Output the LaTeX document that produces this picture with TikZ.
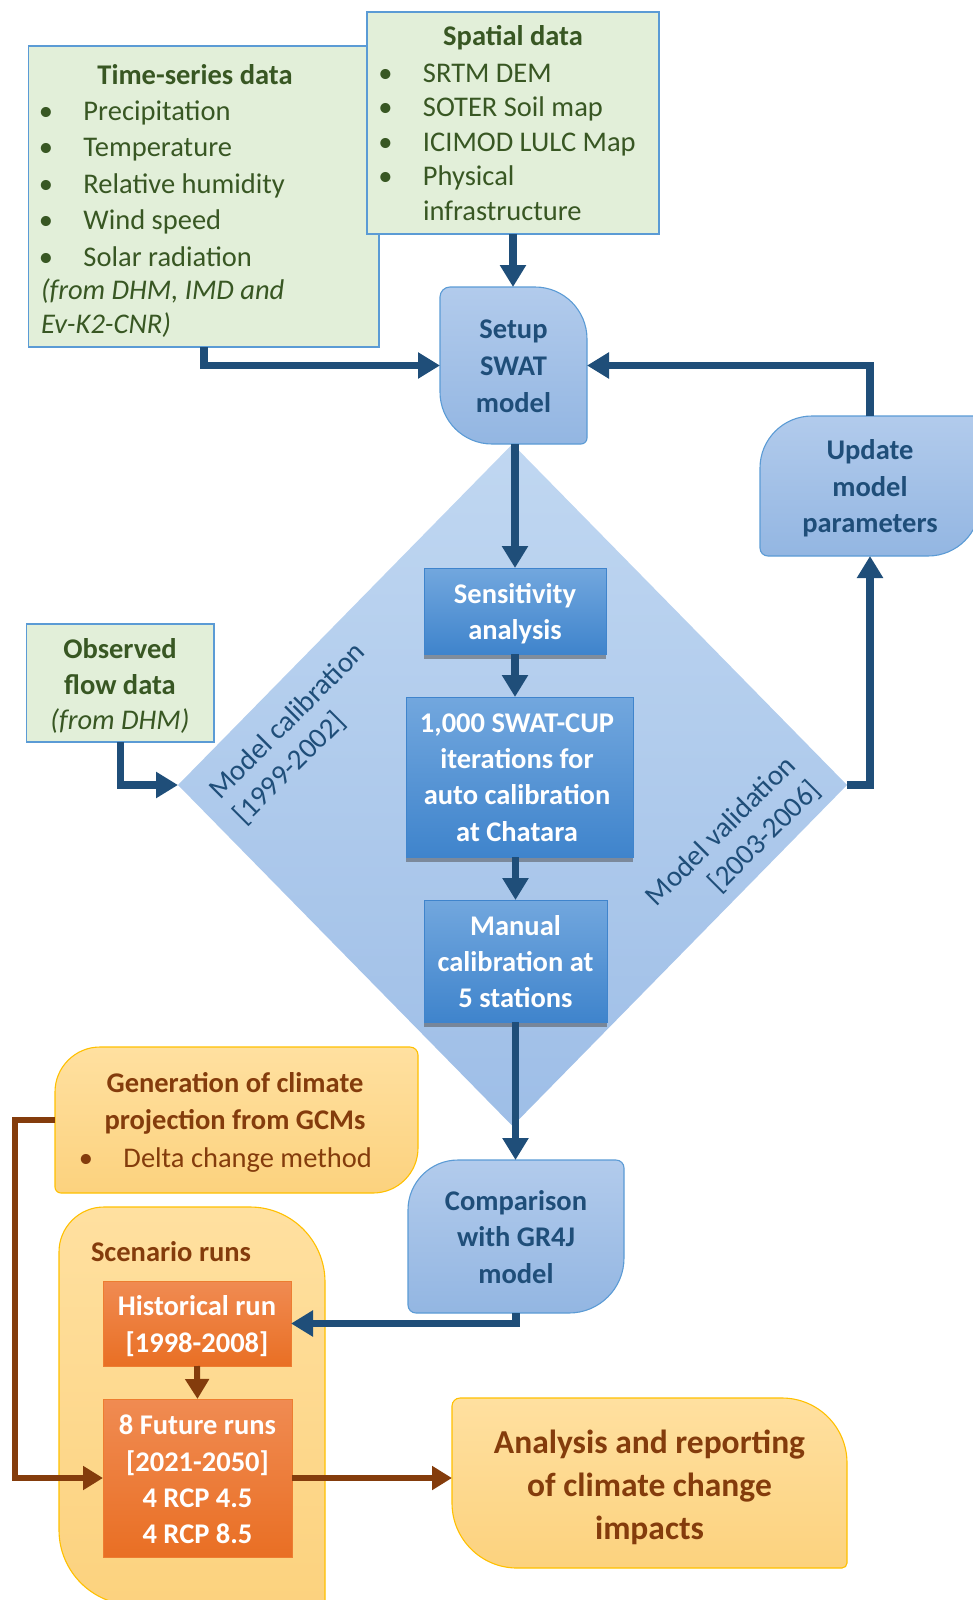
\documentclass[tikz,border=0pt]{standalone}
\usepackage{fontspec}
\setmainfont{Carlito}
\usetikzlibrary{shapes.geometric,arrows.meta,shadows,calc}

\definecolor{navy}{HTML}{1F4E79}
\definecolor{boxline}{HTML}{5B9BD5}
\definecolor{gfill}{HTML}{E2EFD9}
\definecolor{gtext}{HTML}{385723}
\definecolor{lbtop}{HTML}{B2CBEC}
\definecolor{lbbot}{HTML}{93B6E2}
\definecolor{ibtop}{HTML}{72A7DE}
\definecolor{ibbot}{HTML}{3F84CC}
\definecolor{dtop}{HTML}{C0D7F1}
\definecolor{dbot}{HTML}{9EBEE7}
\definecolor{otop}{HTML}{FFE0A0}
\definecolor{obot}{HTML}{FCD27E}
\definecolor{oline}{HTML}{FFC000}
\definecolor{rbrown}{HTML}{843C0C}
\definecolor{ortop}{HTML}{F08B52}
\definecolor{orbot}{HTML}{E96F24}
\definecolor{orline}{HTML}{ED7D31}

\newcommand{\vs}{\rule[-0.25em]{0pt}{0.9em}}
\newcommand{\bul}{\makebox[0pt][c]{•}\hspace{37.5pt}}
% #1 style, #2 node, #3 rTL, #4 rTR, #5 rBR, #6 rBL
\newcommand{\asymbox}[6]{%
  \path[#1] ([xshift=#3pt]#2.north west) -- ([xshift=-#4pt]#2.north east)
    arc[start angle=90,end angle=0,radius=#4pt]
    -- ([yshift=#5pt]#2.south east) arc[start angle=0,end angle=-90,radius=#5pt]
    -- ([xshift=#6pt]#2.south west) arc[start angle=270,end angle=180,radius=#6pt]
    -- ([yshift=-#3pt]#2.north west) arc[start angle=180,end angle=90,radius=#3pt]
    -- cycle;}

\tikzset{
  every node/.style={inner sep=0pt, outer sep=0pt},
  gbox/.style={draw=boxline, line width=1.1pt, fill=gfill},
  lbshape/.style={draw=boxline, line width=1.1pt, top color=lbtop, bottom color=lbbot},
  ibox/.style={top color=ibtop, bottom color=ibbot, draw=ibbot, line width=0.6pt,
    drop shadow={shadow xshift=0pt, shadow yshift=-5pt, opacity=0.5, fill=black!70}},
  oshape/.style={draw=oline, line width=1.1pt, top color=otop, bottom color=obot},
  orbox/.style={draw=orline, line width=1pt, top color=ortop, bottom color=orbot},
  gtxt/.style={text=gtext, font=\fontsize{28.5}{36.5}\selectfont},
  btxt/.style={text=navy, font=\fontsize{28.5}{37}\selectfont\bfseries, align=center, yshift=-4pt},
  wtxt/.style={text=white, font=\fontsize{28.5}{36.3}\selectfont\bfseries, align=center, yshift=-4pt},
  otxt/.style={text=rbrown, font=\fontsize{28.5}{37}\selectfont},
  lab/.style={text=navy, font=\fontsize{29}{35}\selectfont, rotate=45},
  barrow/.style={draw=navy, line width=7.5pt, -{Triangle[width=25pt,length=22pt]}},
  brarrow/.style={draw=rbrown, line width=6pt, -{Triangle[width=23pt,length=20pt]}},
}

\begin{document}
\begin{tikzpicture}[x=1pt,y=1pt]
\useasboundingbox (0,0) rectangle (973,-1600);

% diamond
\node[diamond, minimum width=669pt, minimum height=682pt, top color=dtop, bottom color=dbot] (diam) at (512.5,-785) {};

% green boxes
\node[gbox, minimum width=350.5pt, minimum height=301pt] (ts) at (203.75,-196.5) {};
\node[gbox, minimum width=292pt, minimum height=222pt] (sp) at (513,-123) {};
\node[gbox, minimum width=187.5pt, minimum height=118pt] (obs) at (120.25,-683) {};

% time-series text
\node[gtxt, font=\fontsize{28.5}{36.5}\selectfont\bfseries, anchor=base] (tstitle) at (195,-85) {Time-series data};
\foreach \t [count=\i] in {Precipitation,Temperature,Relative humidity,Wind speed,Solar radiation}
  \node[gtxt, anchor=base west] (ts\i) at (46,{-120.5-36.4*(\i-1)}) {\bul\t};
\node[gtxt, font=\fontsize{28.5}{36.5}\selectfont\itshape, anchor=base west] (tsn1) at (41,-299.5) {(from DHM, IMD and};
\node[gtxt, font=\fontsize{28.5}{36.5}\selectfont\itshape, anchor=base west] (tsn2) at (41,-333.5) {Ev-K2-CNR)};

% spatial text
\node[gtxt, font=\fontsize{28.5}{36.5}\selectfont\bfseries, anchor=base] (sptitle) at (513,-45.5) {Spatial data};
\foreach \t [count=\i] in {SRTM DEM,SOTER Soil map,ICIMOD LULC Map,Physical}
  \node[gtxt, anchor=base west] (sp\i) at (385.5,{-82.6-34.4*(\i-1)}) {\bul\t};
\node[gtxt, anchor=base west] (sp5) at (423,-220.2) {infrastructure};

% observed text
\node[gtxt, font=\fontsize{28.5}{36.5}\selectfont\bfseries, anchor=base] (obs1) at (120,-658.5) {Observed};
\node[gtxt, font=\fontsize{28.5}{36.5}\selectfont\bfseries, anchor=base] (obs2) at (120,-694.5) {flow data};
\node[gtxt, font=\fontsize{28.5}{36.5}\selectfont\itshape, anchor=base] (obs3) at (120,-729.5) {(from DHM)};

% setup
\node[minimum width=147pt, minimum height=157pt] (setup) at (513.5,-365.5) {};
\asymbox{lbshape}{setup}{10}{52}{6}{52}
\node[btxt] (setupt) at (setup) {\vs Setup\\SWAT\\model\vs};

% update
\node[minimum width=220pt, minimum height=140pt] (update) at (870,-486) {};
\asymbox{lbshape}{update}{52}{5}{52}{8}
\node[btxt, font=\fontsize{28.5}{36.5}\selectfont\bfseries] (updatet) at (870,-486) {\vs Update\\model\\parameters\vs};

% inner blue boxes
\node[ibox, minimum width=182pt, minimum height=86pt] (sens) at (515,-611) {};
\node[wtxt] (senst) at (sens) {\vs Sensitivity\\analysis\vs};
\node[ibox, minimum width=227pt, minimum height=160pt] (cup) at (519.5,-777) {};
\node[wtxt] (cupt) at (517,-777) {\vs 1,000 SWAT-CUP\\iterations for\\auto calibration\\at Chatara\vs};
\node[ibox, minimum width=183pt, minimum height=122pt] (man) at (515.5,-961) {};
\node[wtxt] (mant) at (man) {\vs Manual\\calibration at\\5 stations\vs};

% comparison
\node[minimum width=216pt, minimum height=153pt] (comp) at (516,-1236.5) {};
\asymbox{lbshape}{comp}{50}{8}{55}{8}
\node[btxt, font=\fontsize{28.5}{36.8}\selectfont\bfseries] (compt) at (comp) {\vs Comparison\\with GR4J\\model\vs};

% diamond labels
\node[lab, align=left] (calib) at (300,-734) {Model calibration\\{}[1999-2002]};
\node[lab, align=right] (valid) at (733.5,-844) {Model validation\\{}[2003-2006]};

% generation
\node[minimum width=363pt, minimum height=146pt] (gen) at (236.5,-1120) {};
\asymbox{oshape}{gen}{45}{8}{45}{6}
\node[otxt, font=\fontsize{28.5}{37}\selectfont\bfseries, anchor=base] (gen1) at (235,-1092.5) {Generation of climate};
\node[otxt, font=\fontsize{28.5}{37}\selectfont\bfseries, anchor=base] (gen2) at (235,-1129.5) {projection from GCMs};
\node[otxt, anchor=base west] (gen3) at (86,-1167.5) {\bul Delta change method};

% scenario
\node[minimum width=266pt, minimum height=398pt] (scen) at (192,-1406) {};
\asymbox{oshape}{scen}{45}{75}{5}{75}
\node[otxt, font=\fontsize{28.5}{37}\selectfont\bfseries, anchor=base west] (scent) at (91,-1261) {Scenario runs};

\node[orbox, minimum width=188pt, minimum height=85pt] (hist) at (197,-1323.5) {};
\node[wtxt] (histt) at (hist) {\vs Historical run\\{}[1998-2008]\vs};
\node[orbox, minimum width=189pt, minimum height=158pt] (fut) at (197.5,-1478) {};
\node[wtxt, yshift=-1pt] (futt) at (fut) {\vs 8 Future runs\\{}[2021-2050]\\4 RCP 4.5\\4 RCP 8.5\vs};

% analysis
\node[minimum width=395pt, minimum height=170pt] (ana) at (649.5,-1483) {};
\asymbox{oshape}{ana}{8}{65}{5}{65}
\node[otxt, font=\fontsize{33.5}{43}\selectfont\bfseries, align=center, yshift=-6pt] (anat) at (ana) {\vs Analysis and reporting\\of climate change\\impacts\vs};

% arrows
\draw[barrow] (sp.south) -- (sp.south |- setup.north);
\draw[barrow] (ts.south) |- (setup.west);
\draw[barrow] (update.north) |- (setup.east);
\draw[barrow] (setup.south -| sens.north) -- (sens.north);
\draw[barrow] (sens.south) -- (sens.south |- cup.north);
\draw[barrow] (cup.south -| man.north) -- (man.north);
\draw[barrow] (man.south) -- (man.south |- comp.north);
\draw[barrow] (obs.south) |- (diam.west);
\draw[barrow] (diam.east) -| (update.south);
\draw[barrow] (comp.south) |- (hist.east);
\draw[brarrow] (hist.south) -- (fut.north);
\draw[brarrow] (gen.west) -- ++(-40,0) |- (fut.west);
\draw[brarrow] (fut.east) -- (fut.east -| ana.west);
\end{tikzpicture}
\end{document}
